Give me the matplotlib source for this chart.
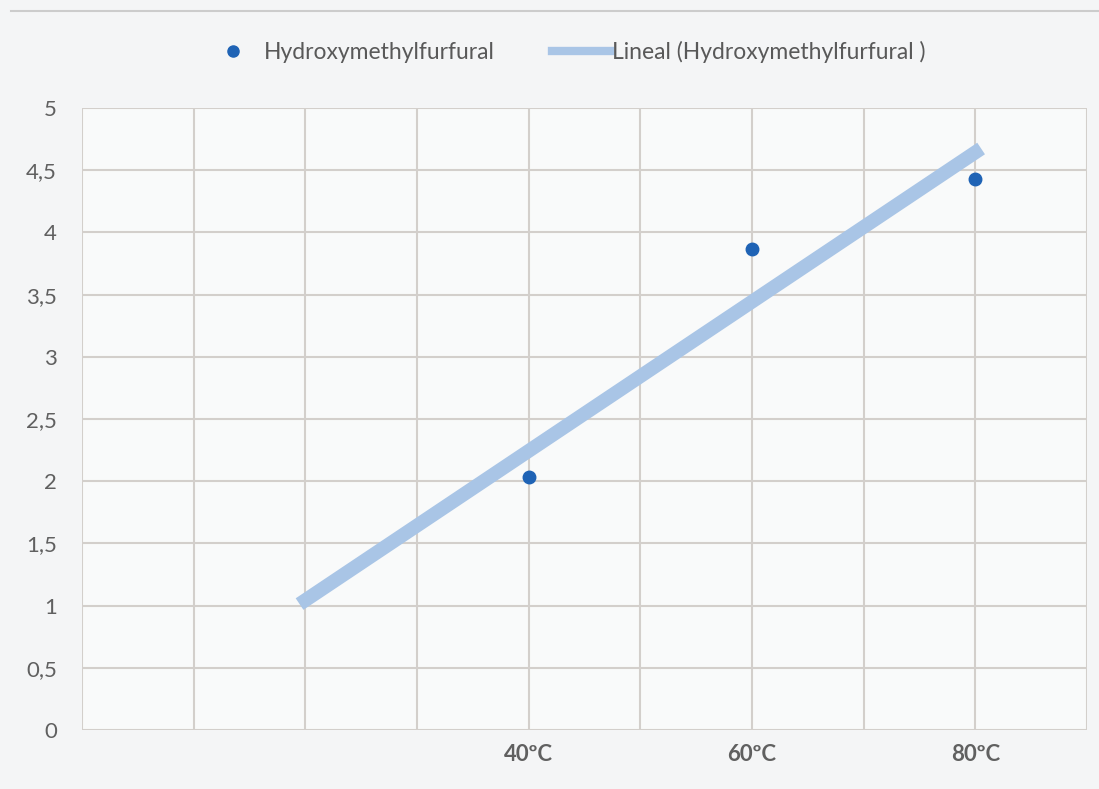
import matplotlib.pyplot as plt
import numpy as np
from matplotlib.lines import Line2D

plt.rcParams['font.family'] = ['Lato', 'DejaVu Sans']

temps = [40, 60, 80]
hmf = [2.03, 3.87, 4.43]
tick_pos = [40, 60, 80]
tick_labels = ['40ºC', '60ºC', '80ºC']

# linear trendline, extended back to 20
slope, intercept = np.polyfit(temps, hmf, 1)
trend_x = np.array([20, 80])
trend_y = slope * trend_x + intercept

fig = plt.figure(figsize=(10.99, 7.89), dpi=100, facecolor='#f4f5f6')
ax = fig.add_axes([82 / 1099, 1 - 730 / 789, (1087 - 82) / 1099, (730 - 108) / 789])
ax.set_facecolor('#f9fafa')

ax.plot(trend_x, trend_y, color='#a9c5e6', lw=10, solid_capstyle='projecting', zorder=2)
ax.plot(temps, hmf, 'o', color='#1f63b5', ms=9, zorder=3)

ax.set_xlim(0, 90)
ax.set_ylim(0, 5)
ax.set_xticks(np.arange(0, 91, 10), minor=False)
ax.set_xticklabels(['' if t not in tick_pos else tick_labels[tick_pos.index(t)]
                    for t in range(0, 91, 10)])
ax.set_yticks(np.arange(0, 5.01, 0.5))
ax.set_yticklabels([f'{v:g}'.replace('.', ',') for v in np.arange(0, 5.01, 0.5)])
ax.grid(True, color='#d3cfcb', lw=1.5, zorder=0)
for s in ax.spines.values():
    s.set_visible(False)
ax.tick_params(length=0, colors='#606060', labelsize=16)
ax.tick_params(axis='x', pad=10)
ax.tick_params(axis='y', pad=18)
for lab in ax.get_xticklabels():
    lab.set_fontweight('bold')

handles = [
    Line2D([], [], marker='o', ls='none', color='#1f63b5', ms=8),
    Line2D([], [], color='#a9c5e6', lw=6),
]
fig.legend(handles, ['Hydroxymethylfurfural', 'Lineal (Hydroxymethylfurfural )'],
           loc='center', bbox_to_anchor=(0.514, 1 - 52 / 789), ncol=2, frameon=False,
           fontsize=16.5, labelcolor='#595959', handlelength=2.5, handletextpad=0.1,
           columnspacing=2.5)

fig.add_artist(Line2D([0.01, 1], [1 - 11 / 789] * 2, color='#cccccc', lw=1.5))

fig.savefig('out.png', dpi=100, facecolor=fig.get_facecolor())
